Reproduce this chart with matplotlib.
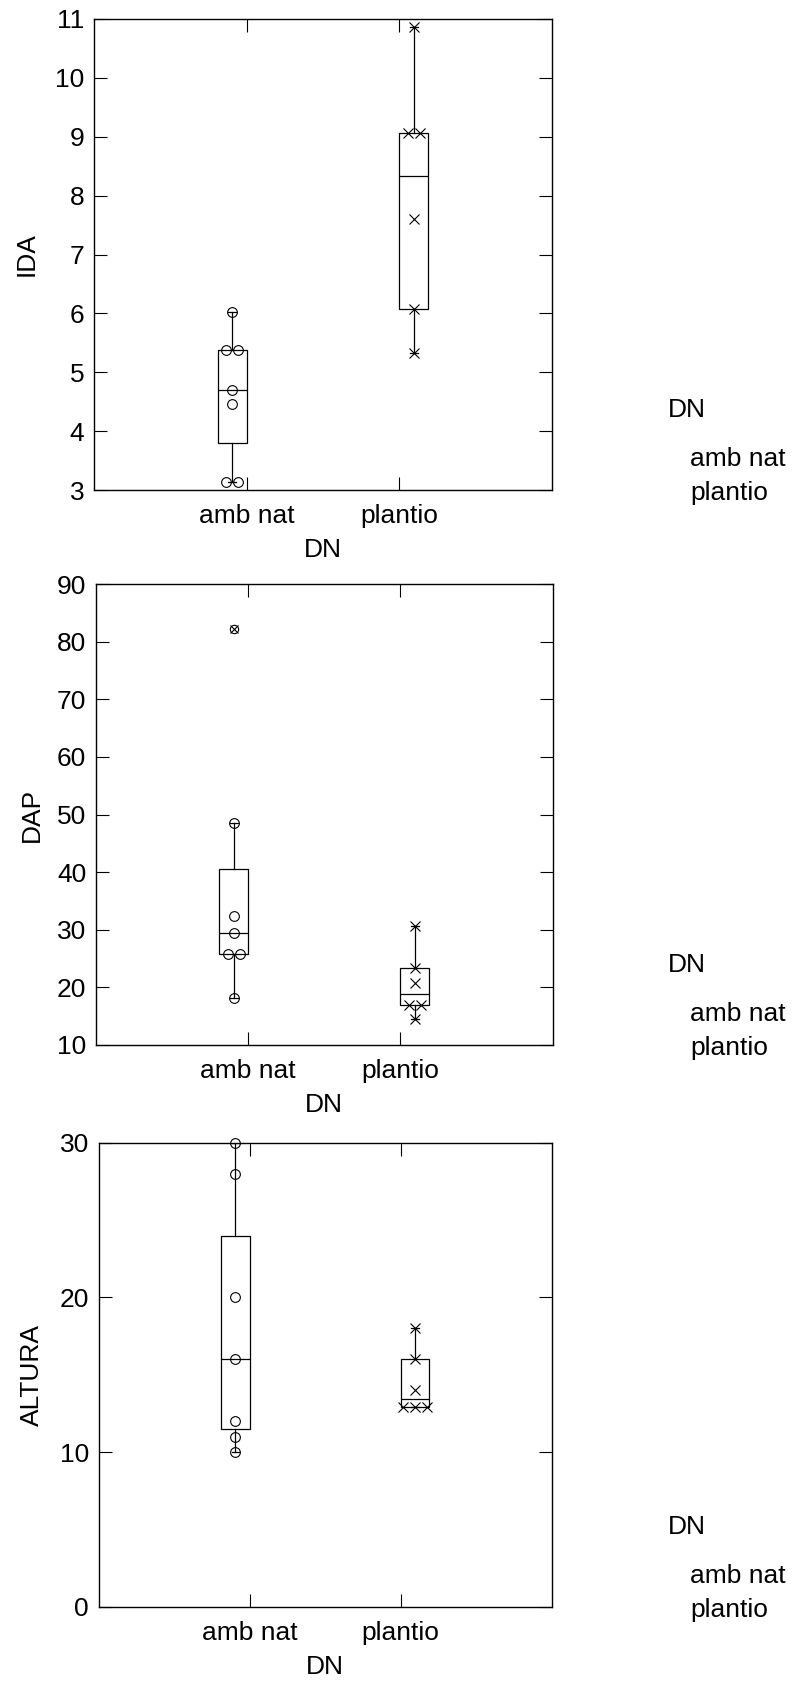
import numpy as np
import matplotlib.pyplot as plt

plt.rcParams['font.family'] = ['Liberation Sans', 'DejaVu Sans']

W, H = 796, 1682
FS = 19

categories = ["amb nat", "plantio"]
group_name = "DN"

ida_amb = [6.03, 5.38, 5.38, 4.70, 4.46, 3.14, 3.14]
ida_pla = [10.86, 9.06, 9.06, 7.60, 6.07, 5.32]
dap_amb = [82.2, 48.6, 32.4, 29.4, 25.8, 25.8, 18.1]
dap_pla = [30.7, 23.4, 20.8, 16.9, 16.9, 14.5]
alt_amb = [30, 28, 20, 16, 12, 11, 10]
alt_pla = [18, 16, 14, 12.9, 12.9, 12.9]

ida_ticks = [3, 4, 5, 6, 7, 8, 9, 10, 11]
dap_ticks = [10, 20, 30, 40, 50, 60, 70, 80, 90]
alt_ticks = [0, 10, 20, 30]


def tukey_stats(vals):
    x = np.sort(np.asarray(vals, dtype=float))
    n = len(x)
    med = np.median(x)
    q1 = np.median(x[:(n + 1) // 2])
    q3 = np.median(x[n // 2:])
    iqr = q3 - q1
    lo_f, hi_f = q1 - 1.5 * iqr, q3 + 1.5 * iqr
    inside = x[(x >= lo_f) & (x <= hi_f)]
    fliers = x[(x < lo_f) | (x > hi_f)]
    return dict(med=med, q1=q1, q3=q3, whislo=inside.min(), whishi=inside.max(),
                fliers=fliers), fliers


def tie_offsets(vals, step=0.077):
    # spread tied values side by side, like the original
    vals = list(vals)
    out = []
    seen = {}
    for v in vals:
        k = vals.count(v)
        i = seen.get(v, 0)
        seen[v] = i + 1
        out.append((i - (k - 1) / 2) * step)
    return np.array(out)


fig = plt.figure(figsize=(W / 100, H / 100), dpi=100)

# (left, right, top, bottom) in pixels
panels = [
    ("IDA", ida_amb, ida_pla, (3, 11), ida_ticks, (94, 552, 19, 490), 27),
    ("DAP", dap_amb, dap_pla, (10, 90), dap_ticks, (96, 552.5, 584, 1045), 32),
    ("ALTURA", alt_amb, alt_pla, (0, 30), alt_ticks, (98.7, 551.5, 1142.7, 1607), 32),
]

dodge = 0.095
bw = 0.19
lw = 0.9

for label, amb, pla, ylim, yticks, (l, r, t, b), ylab_x in panels:
    ax = fig.add_axes([l / W, 1 - b / H, (r - l) / W, (b - t) / H])
    markers = ['o', 'x']
    for ci, vals in enumerate([amb, pla]):
        pos = ci + (-dodge if ci == 0 else dodge)
        st, fliers = tukey_stats(vals)
        ax.bxp([st], positions=[pos], widths=bw, showfliers=True, patch_artist=True,
               boxprops=dict(facecolor='white', edgecolor='black', linewidth=lw),
               medianprops=dict(color='black', linewidth=lw),
               whiskerprops=dict(color='black', linewidth=lw),
               capprops=dict(color='black', linewidth=lw), capwidths=0.05,
               flierprops=dict(marker='o', markersize=6, markerfacecolor='none',
                               markeredgecolor='black', markeredgewidth=0.8))
        for fv in fliers:
            ax.plot([pos], [fv], marker='x', ms=6, color='black', mew=0.8,
                    linestyle='none', zorder=5)
        regular = [v for v in vals if v not in fliers]
        xs = pos + tie_offsets(regular)
        ax.plot(xs, regular, marker=markers[ci], ms=7, mfc='none', mec='black',
                mew=0.8, linestyle='none', zorder=4, clip_on=False)

    ax.set_xlim(-1, 2)
    ax.set_ylim(*ylim)
    ax.set_yticks(yticks)
    ax.set_xticks([0, 1])
    ax.set_xticklabels(categories, fontsize=FS)
    ax.tick_params(axis='both', direction='in', length=9.7, width=0.8,
                   top=True, right=True, labelsize=FS)
    ax.tick_params(axis='x', pad=10)
    ax.tick_params(axis='y', pad=7)
    for sp in ax.spines.values():
        sp.set_linewidth(1.0)

    hpx = b - t
    wpx = r - l
    ax.set_xlabel(group_name, fontsize=FS, va='center')
    ax.xaxis.set_label_coords(0.5, -60 / hpx)
    ax.set_ylabel(label, fontsize=FS, va='center')
    ax.yaxis.set_label_coords((ylab_x - l) / wpx, 0.5)

    # legend text (no visible markers in the original)
    fig.text(668 / W, 1 - (b - 80) / H, group_name, fontsize=FS, va='center', ha='left')
    fig.text(690 / W, 1 - (b - 31) / H, categories[0], fontsize=FS, va='center', ha='left')
    fig.text(690 / W, 1 - (b + 3) / H, categories[1], fontsize=FS, va='center', ha='left')

fig.savefig("out.png", dpi=100)
